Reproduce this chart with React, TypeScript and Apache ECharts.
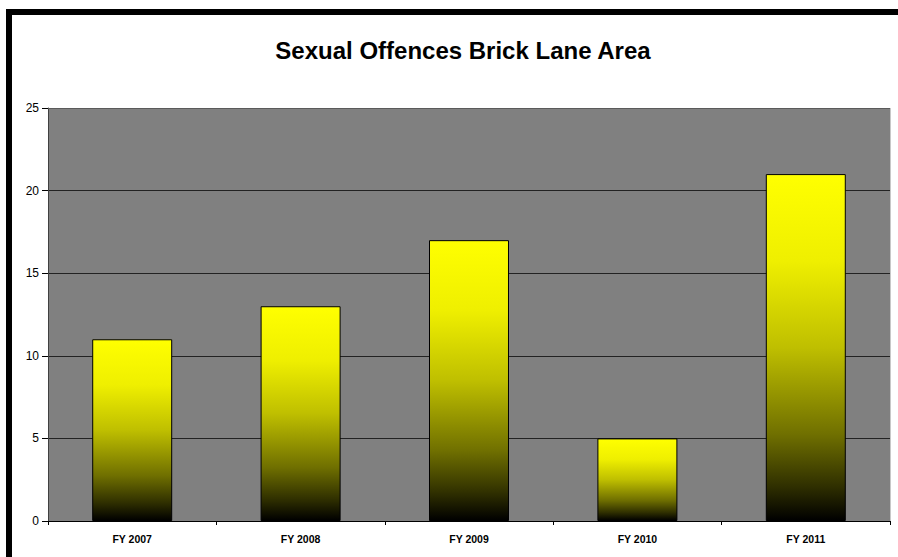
import React, { useEffect, useRef } from "react";
import * as echarts from "echarts";

const categories = ["FY 2007", "FY 2008", "FY 2009", "FY 2010", "FY 2011"];
const values = [11, 13, 17, 5, 21];
const titleText = "Sexual Offences Brick Lane Area";

export default function App() {
  const ref = useRef<HTMLDivElement>(null);
  useEffect(() => {
    if (!ref.current) return;
    const chart = echarts.init(ref.current, null, { renderer: "svg" });
    const font = "'Liberation Sans', Arial, sans-serif";
    chart.setOption({
      animation: false,
      backgroundColor: "#ffffff",
      title: {
        text: titleText,
        left: 458,
        top: 33,
        textAlign: "center",
        textStyle: { fontFamily: font, fontSize: 24, fontWeight: "bold", color: "#000" },
      },
      grid: {
        left: 48,
        top: 108,
        right: 8,
        bottom: 36,
        show: true,
        backgroundColor: "#808080",
        borderWidth: 0,
      },
      graphic: [
        {
          type: "rect",
          shape: { x: 9, y: 12, width: 1000, height: 1000 },
          style: { fill: "none", stroke: "#000", lineWidth: 6 },
          silent: true,
          z: 100,
        },
        {
          type: "line",
          shape: { x1: 48, y1: 108.5, x2: 890, y2: 108.5 },
          style: { stroke: "#5a5a5a", lineWidth: 1 },
          z: 50,
        },
        {
          type: "line",
          shape: { x1: 890.5, y1: 108, x2: 890.5, y2: 521 },
          style: { stroke: "#c8c8c8", lineWidth: 1 },
          z: 50,
        },
      ],
      xAxis: {
        type: "category",
        data: categories,
        axisLine: { show: true, lineStyle: { color: "#000", width: 1 } },
        axisTick: { show: true, length: 4, lineStyle: { color: "#000" } },
        axisLabel: {
          fontFamily: font,
          fontSize: 10.5,
          fontWeight: "bold",
          color: "#000",
          margin: 12,
        },
        splitLine: { show: false },
      },
      yAxis: {
        type: "value",
        min: 0,
        max: 25,
        interval: 5,
        axisLine: { show: true, lineStyle: { color: "#404040", width: 1 } },
        axisTick: { show: true, length: 6, lineStyle: { color: "#000" } },
        axisLabel: { fontFamily: font, fontSize: 12, color: "#000", margin: 9 },
        splitLine: { show: true, lineStyle: { color: "#222", width: 1 } },
      },
      series: [
        {
          type: "bar",
          data: values,
          barWidth: "47.5%",
          itemStyle: {
            borderColor: "#000",
            borderWidth: 1,
            color: new echarts.graphic.LinearGradient(0, 0, 0, 1, [
              { offset: 0, color: "#ffff00" },
              { offset: 0.25, color: "#efef00" },
              { offset: 0.5, color: "#bfbf00" },
              { offset: 0.75, color: "#707000" },
              { offset: 0.9, color: "#303000" },
              { offset: 1, color: "#000000" },
            ]),
          },
        },
      ],
    });
    return () => chart.dispose();
  }, []);
  return (
    <div
      ref={ref}
      style={{ position: "fixed", left: 0, top: 0, width: 898, height: 557 }}
    />
  );
}
